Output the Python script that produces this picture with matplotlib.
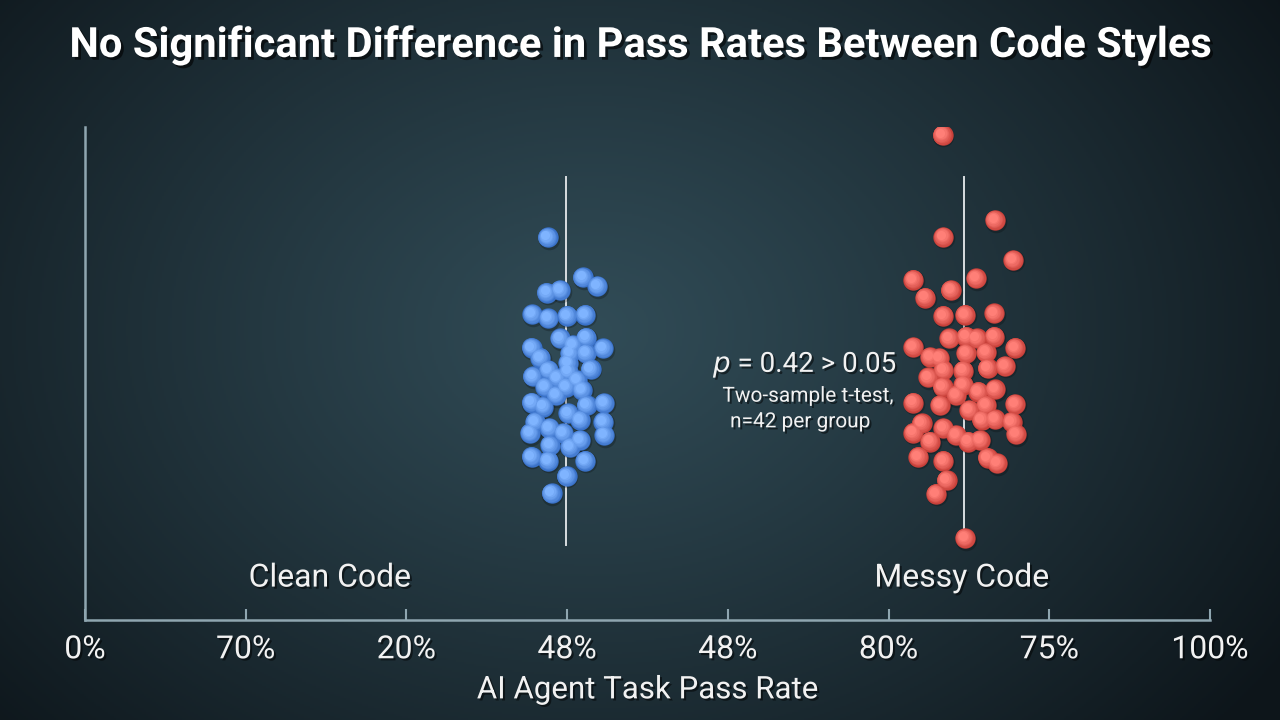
import numpy as np
import matplotlib
matplotlib.use("Agg")
import matplotlib.pyplot as plt
from matplotlib import patheffects
from matplotlib.colors import to_rgb
from matplotlib.transforms import offset_copy

plt.rcParams['font.family'] = ['Roboto', 'DejaVu Sans']

# tick labels exactly as printed on the reference axis
tick_labels = ["0%", "70%", "20%", "48%", "48%", "80%", "75%", "100%"]
group_names = ["Clean Code", "Messy Code"]

# clean code dots (x = strip position, y = pass rate on the vertical scale)
clean_x = [2.879, 3.097, 3.188, 2.873, 2.956, 2.783, 2.883, 3.001, 3.111, 2.956,
           3.117, 2.779, 3.225, 2.831, 3.018, 3.117, 2.883, 3.007, 3.146, 2.786,
           2.862, 3.091, 2.931, 2.993, 2.779, 2.852, 3.121, 3.229, 3.007, 3.080,
           3.225, 2.800, 2.889, 2.769, 2.976, 3.080, 3.231, 2.893, 2.779, 2.883,
           3.111, 2.997, 2.903, 3.036, 3.005, 3.061, 3.018, 2.937]
clean_y = [77.6, 69.5, 67.7, 66.4, 66.9, 62.0, 61.2, 61.7, 61.9, 57.1,
           57.3, 55.2, 55.1, 53.2, 54.1, 54.1, 50.7, 50.4, 50.9, 49.4,
           47.3, 46.7, 45.6, 47.3, 44.1, 43.3, 43.6, 44.0, 41.9, 40.6,
           40.2, 40.2, 38.9, 37.9, 37.9, 36.5, 37.5, 35.5, 33.1, 32.3,
           32.3, 29.2, 25.7, 55.8, 52.1, 48.7, 35.1, 49.1]

# messy code dots
messy_x = [5.336, 5.662, 5.341, 5.776, 5.154, 5.544, 5.227, 5.387, 5.341, 5.476,
           5.658, 5.154, 5.378, 5.482, 5.548, 5.658, 5.787, 5.258, 5.316, 5.482,
           5.606, 5.341, 5.465, 5.616, 5.725, 5.247, 5.336, 5.465, 5.558, 5.662,
           5.154, 5.320, 5.420, 5.787, 5.502, 5.606, 5.206, 5.341, 5.579, 5.662,
           5.766, 5.154, 5.420, 5.793, 5.258, 5.496, 5.569, 5.185, 5.341, 5.616,
           5.676, 5.361, 5.295, 5.476]
messy_y = [98.4, 81.1, 77.7, 73.0, 69.0, 69.3, 65.4, 66.9, 61.7, 61.9,
           62.2, 55.4, 57.1, 57.5, 57.1, 57.5, 55.2, 53.3, 53.1, 54.1,
           54.3, 50.7, 50.6, 51.1, 51.5, 49.2, 47.3, 47.7, 46.3, 46.8,
           44.1, 43.6, 45.6, 43.8, 42.6, 43.6, 39.9, 38.9, 40.6, 40.7,
           40.2, 38.0, 37.5, 37.7, 36.2, 36.2, 36.5, 33.1, 32.3, 32.9,
           31.8, 28.4, 25.6, 16.6]

clean_center = 2.993
messy_center = 5.469
line_span = (15.2, 89.9)

fig = plt.figure(figsize=(12.8, 7.2), dpi=100)

# radial background
bg = fig.add_axes([0, 0, 1, 1], zorder=-5)
gx, gy = np.meshgrid(np.linspace(0, 1280, 640), np.linspace(0, 720, 360))
r = np.sqrt(((gx - 590) / 830) ** 2 + ((gy - 330) / 620) ** 2)
t = np.clip(r, 0, 1) ** 1.1
inner = np.array([0x31, 0x4c, 0x57]) / 255
outer = np.array([0x0d, 0x15, 0x1a]) / 255
img = inner[None, None, :] * (1 - t[..., None]) + outer[None, None, :] * t[..., None]
bg.imshow(img, extent=[0, 1, 0, 1], aspect='auto', origin='upper')
bg.axis('off')

ax = fig.add_axes([85 / 1280, 1 - 620 / 720, 1125 / 1280, 493 / 720])
ax.set_facecolor('none')
ax.set_xlim(0, 7)
ax.set_ylim(0, 100)

spine_col = '#8fa6b0'
for s in ['top', 'right']:
    ax.spines[s].set_visible(False)
for s in ['left', 'bottom']:
    ax.spines[s].set_color(spine_col)
    ax.spines[s].set_linewidth(1.8)
ax.set_yticks([])
ax.set_xticks(range(len(tick_labels)))
ax.set_xticklabels(tick_labels)
ax.tick_params(axis='x', direction='in', length=8, width=1.5, color=spine_col,
               labelsize=23, labelcolor='#f2f2f2', pad=11)

shadow = [patheffects.withSimplePatchShadow(offset=(1.5, -1.5), shadow_rgbFace='black', alpha=0.5)]
for lab in ax.get_xticklabels():
    lab.set_path_effects(shadow)

ax.set_xlabel("AI Agent Task Pass Rate", fontsize=22.5, color='#f2f2f2', labelpad=8,
              path_effects=shadow)

# median lines
for cx in [clean_center, messy_center]:
    ax.plot([cx, cx], line_span, color='#d8dde0', lw=1.4, zorder=2)


def sphere_scatter(xs, ys, edge, light):
    # stacked circles shading from edge colour to a soft upper-left highlight
    size = 215
    ax.scatter(xs, ys, s=size * 1.12, color='black', alpha=0.22, lw=0, zorder=3,
               transform=offset_copy(ax.transData, fig=fig, x=0.6, y=-1.0, units='points'))
    e, l = np.array(to_rgb(edge)), np.array(to_rgb(light))
    n = 7
    for i in range(n):
        k = i / (n - 1)
        col = e * (1 - k) + l * k
        frac = 1.0 - 0.8 * k
        ax.scatter(xs, ys, s=size * frac, color=col, lw=0, zorder=4,
                   transform=offset_copy(ax.transData, fig=fig, x=-1.6 * k, y=1.6 * k, units='points'))


sphere_scatter(clean_x, clean_y, '#3a72c9', '#7fb4ff')
sphere_scatter(messy_x, messy_y, '#c8403a', '#ff7f77')

# group labels
for name, cx in zip(group_names, [1.525, 5.457]):
    ax.text(cx, 8.5, name, ha='center', va='center', fontsize=23, color='#f2f2f2',
            path_effects=shadow)

# test annotation
ax.text(4.48, 51.7, r"$\it{p}$ = 0.42 > 0.05", ha='center', va='center', fontsize=20,
        color='#f2f2f2', path_effects=shadow)
ax.text(4.5, 45.4, "Two-sample t-test,", ha='center', va='center', fontsize=15,
        color='#f2f2f2', path_effects=shadow)
ax.text(4.45, 40.2, "n=42 per group", ha='center', va='center', fontsize=15,
        color='#f2f2f2', path_effects=shadow)

fig.text(0.5, 1 - 45 / 720, "No Significant Difference in Pass Rates Between Code Styles",
         ha='center', va='center', fontsize=30, fontweight='bold', color='white',
         path_effects=[patheffects.withSimplePatchShadow(offset=(2, -2), shadow_rgbFace='black', alpha=0.6)])

fig.savefig('out.png', dpi=100)
